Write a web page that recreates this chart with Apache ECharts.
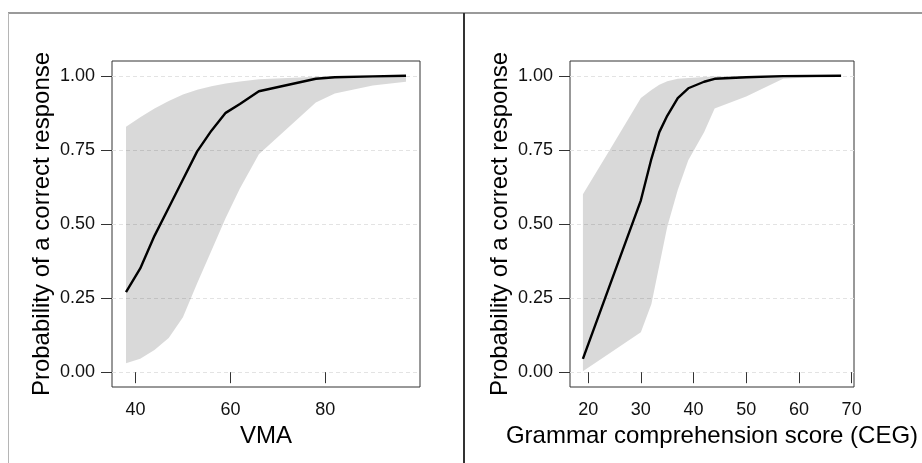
<!DOCTYPE html>
<html>
<head>
<meta charset="utf-8">
<script src="https://cdn.jsdelivr.net/npm/echarts@6/dist/echarts.min.js"></script>
<style>
html,body{margin:0;padding:0;background:#fff;}
#chart{width:922px;height:463px;}
</style>
</head>
<body>
<div id="chart"></div>
<script>
// ---- Left panel (VMA) ----
const vmaX     = [38, 41, 44, 47, 50, 53, 56, 59, 62, 66, 78, 82, 90, 97];
const vmaFit   = [0.27, 0.35, 0.46, 0.555, 0.65, 0.745, 0.815, 0.875, 0.905, 0.948, 0.99, 0.995, 0.998, 1.0];
const vmaUpper = [0.828, 0.86, 0.89, 0.915, 0.937, 0.953, 0.965, 0.974, 0.981, 0.988, 0.997, 0.998, 0.999, 1.0];
const vmaLower = [0.03, 0.045, 0.075, 0.115, 0.185, 0.30, 0.41, 0.52, 0.62, 0.735, 0.91, 0.94, 0.967, 0.98];

// ---- Right panel (CEG) ----
const cegX     = [19, 25, 30, 32, 33.5, 35, 37, 39, 42, 44, 50, 57, 68];
const cegFit   = [0.045, 0.337, 0.58, 0.72, 0.81, 0.865, 0.925, 0.958, 0.98, 0.99, 0.995, 0.999, 1.0];
const cegUpper = [0.60, 0.777, 0.925, 0.952, 0.97, 0.982, 0.99, 0.993, 0.996, 0.998, 0.999, 1.0, 1.0];
const cegLower = [0.003, 0.075, 0.135, 0.23, 0.36, 0.49, 0.615, 0.715, 0.81, 0.89, 0.93, 0.99, 1.0];

const yTicks = [0, 0.25, 0.5, 0.75, 1];
const vmaTicks = [40, 60, 80];
const cegTicks = [20, 30, 40, 50, 60, 70];
const yTitle = 'Probability of a correct response';
const vmaTitle = 'VMA';
const cegTitle = 'Grammar comprehension score (CEG)';

const FONT = "'Liberation Sans', Arial, Helvetica, sans-serif";

function xAxisCfg(gi, min, max, ticks, name) {
  return {
    type: 'value', gridIndex: gi, min: min, max: max,
    name: name, nameLocation: 'middle', nameGap: 34,
    nameTextStyle: {fontSize: 24, color: '#000', fontFamily: FONT},
    axisLine: {show: false},
    axisTick: {show: true, inside: false, length: 11, customValues: ticks, lineStyle: {color: '#333', width: 1}},
    axisLabel: {customValues: ticks, fontSize: 18, color: '#111', fontFamily: FONT, margin: 14},
    splitLine: {show: false}
  };
}
function yAxisCfg(gi) {
  return {
    type: 'value', gridIndex: gi, min: -0.05, max: 1.05,
    name: yTitle, nameLocation: 'middle', nameGap: 58,
    nameTextStyle: {fontSize: 24, color: '#000', fontFamily: FONT},
    axisLine: {show: false},
    axisTick: {show: true, inside: false, length: 11, customValues: yTicks, lineStyle: {color: '#333', width: 1}},
    axisLabel: {customValues: yTicks, fontSize: 18, color: '#111', fontFamily: FONT, margin: 17,
      formatter: v => v.toFixed(2)},
    splitLine: {show: true, lineStyle: {color: '#e3e3e3', width: 1, type: [4, 3]}}
  };
}
function ribbon(gi, xs, lo, hi) {
  return {
    type: 'custom', xAxisIndex: gi, yAxisIndex: gi, silent: true, z: 3,
    data: [[xs[0], lo[0]]],
    encode: {x: 0, y: 1},
    renderItem: function (params, api) {
      const pts = [];
      for (let i = 0; i < xs.length; i++) pts.push(api.coord([xs[i], hi[i]]));
      for (let i = xs.length - 1; i >= 0; i--) pts.push(api.coord([xs[i], lo[i]]));
      return {type: 'polygon', shape: {points: pts}, style: {fill: 'rgba(0,0,0,0.15)'}};
    }
  };
}
function fitLine(gi, xs, ys) {
  return {
    type: 'line', xAxisIndex: gi, yAxisIndex: gi, z: 4,
    data: xs.map((x, i) => [x, ys[i]]),
    showSymbol: false, symbol: 'none',
    lineStyle: {color: '#000', width: 2.4}
  };
}

const chart = echarts.init(document.getElementById('chart'), null, {renderer: 'canvas'});
chart.setOption({
  animation: false,
  backgroundColor: '#fff',
  grid: [
    {left: 112, top: 61, width: 308, height: 326, show: true, borderColor: '#333', borderWidth: 1, backgroundColor: 'transparent'},
    {left: 570, top: 61, width: 284, height: 326, show: true, borderColor: '#333', borderWidth: 1, backgroundColor: 'transparent'}
  ],
  xAxis: [
    xAxisCfg(0, 35.05, 99.95, vmaTicks, vmaTitle),
    xAxisCfg(1, 16.55, 70.45, cegTicks, cegTitle)
  ],
  yAxis: [yAxisCfg(0), yAxisCfg(1)],
  series: [
    ribbon(0, vmaX, vmaLower, vmaUpper),
    fitLine(0, vmaX, vmaFit),
    ribbon(1, cegX, cegLower, cegUpper),
    fitLine(1, cegX, cegFit)
  ],
  graphic: [
    {type: 'line', shape: {x1: 8, y1: 13, x2: 922, y2: 13}, style: {stroke: '#9a9a9a', lineWidth: 2}},
    {type: 'line', shape: {x1: 8.5, y1: 13, x2: 8.5, y2: 463}, style: {stroke: '#b5b5b5', lineWidth: 1}},
    {type: 'line', shape: {x1: 464, y1: 13, x2: 464, y2: 463}, style: {stroke: '#333', lineWidth: 2}}
  ]
});
</script>
</body>
</html>
